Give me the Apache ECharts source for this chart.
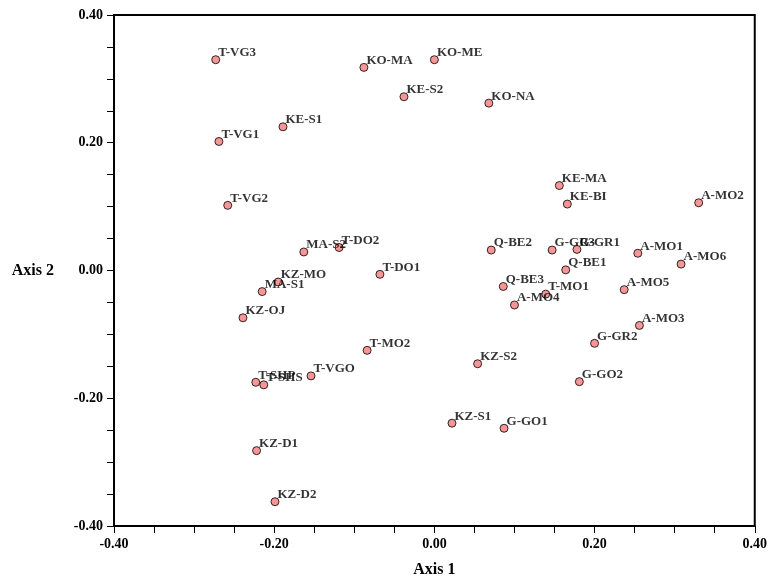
<!DOCTYPE html>
<html>
<head>
<meta charset="utf-8">
<script src="https://cdn.jsdelivr.net/npm/echarts@6/dist/echarts.min.js"></script>
<style>
  html, body { margin: 0; padding: 0; background: #fff; }
  #main { width: 770px; height: 583px; }
</style>
</head>
<body>
<div id="main"></div>
<script>
// site names and their ordination scores (axis 1, axis 2)
var siteNames = ['T-VG3', 'KO-MA', 'KO-ME', 'KE-S2', 'KO-NA', 'KE-S1', 'T-VG1', 'T-VG2',
    'MA-S2', 'T-DO2', 'T-DO1', 'KZ-MO', 'MA-S1', 'KZ-OJ', 'T-MO2', 'T-VGO', 'T-SHP', 'T-SHS',
    'KE-MA', 'KE-BI', 'A-MO2', 'Q-BE2', 'G-GR3', 'G-GR1', 'A-MO1', 'A-MO6', 'Q-BE1', 'Q-BE3',
    'T-MO1', 'A-MO5', 'A-MO4', 'A-MO3', 'G-GR2', 'KZ-S2', 'G-GO2', 'KZ-S1', 'G-GO1', 'KZ-D1', 'KZ-D2'];
var axis1 = [-0.273, -0.088, 0.000, -0.038, 0.068, -0.189, -0.269, -0.258,
    -0.163, -0.119, -0.068, -0.195, -0.215, -0.239, -0.084, -0.154, -0.223, -0.213,
    0.156, 0.166, 0.330, 0.071, 0.147, 0.178, 0.254, 0.308, 0.164, 0.086,
    0.139, 0.237, 0.100, 0.256, 0.200, 0.054, 0.181, 0.022, 0.087, -0.222, -0.199];
var axis2 = [0.330, 0.318, 0.330, 0.272, 0.262, 0.225, 0.202, 0.102,
    0.029, 0.036, -0.006, -0.018, -0.033, -0.074, -0.125, -0.165, -0.175, -0.179,
    0.133, 0.104, 0.106, 0.032, 0.032, 0.033, 0.027, 0.010, 0.001, -0.025,
    -0.037, -0.030, -0.054, -0.086, -0.114, -0.146, -0.174, -0.239, -0.247, -0.282, -0.362];

var serif = "'Liberation Serif', 'Times New Roman', serif";

var points = [];
for (var i = 0; i < siteNames.length; i++) {
    points.push({name: siteNames[i], value: [axis1[i], axis2[i]]});
}

var myChart = echarts.init(document.getElementById('main'));

function axisStyle(name) {
    return {
        type: 'value',
        min: -0.4,
        max: 0.4,
        interval: 0.2,
        name: name,
        nameLocation: 'middle',
        nameTextStyle: {color: '#000', fontFamily: serif, fontWeight: 'bold', fontSize: 16},
        axisLine: {show: true, onZero: false, lineStyle: {color: '#000', width: 2}},
        axisTick: {show: true, length: 7, lineStyle: {color: '#000', width: 1}},
        minorTick: {show: true, splitNumber: 4, length: 7, lineStyle: {color: '#000', width: 1}},
        splitLine: {show: false},
        axisLabel: {
            color: '#000',
            fontFamily: serif,
            fontWeight: 'bold',
            fontSize: 14,
            formatter: function (v) { return v.toFixed(2); }
        }
    };
}

var xAxisOpt = axisStyle('Axis 1');
xAxisOpt.nameGap = 36;
xAxisOpt.axisLabel.margin = 11;
var yAxisOpt = axisStyle('Axis 2');
yAxisOpt.nameGap = 60;
yAxisOpt.nameRotate = 0;
yAxisOpt.axisLabel.margin = 11;

var option = {
    animation: false,
    backgroundColor: '#fff',
    grid: {
        left: 114,
        right: 13,
        top: 15,
        bottom: 46,
        show: true,
        borderColor: '#000',
        borderWidth: 2
    },
    xAxis: xAxisOpt,
    yAxis: yAxisOpt,
    series: [
        {
            type: 'scatter',
            symbol: 'circle',
            symbolSize: 8,
            itemStyle: {color: '#f47c7c', borderColor: '#000', borderWidth: 1},
            label: {
                show: true,
                position: [7, 4],
                align: 'left',
                verticalAlign: 'bottom',
                color: '#000',
                fontFamily: serif,
                fontWeight: 'bold',
                fontSize: 13,
                formatter: '{b}'
            },
            data: points
        }
    ]
};

myChart.setOption(option);
</script>
</body>
</html>
